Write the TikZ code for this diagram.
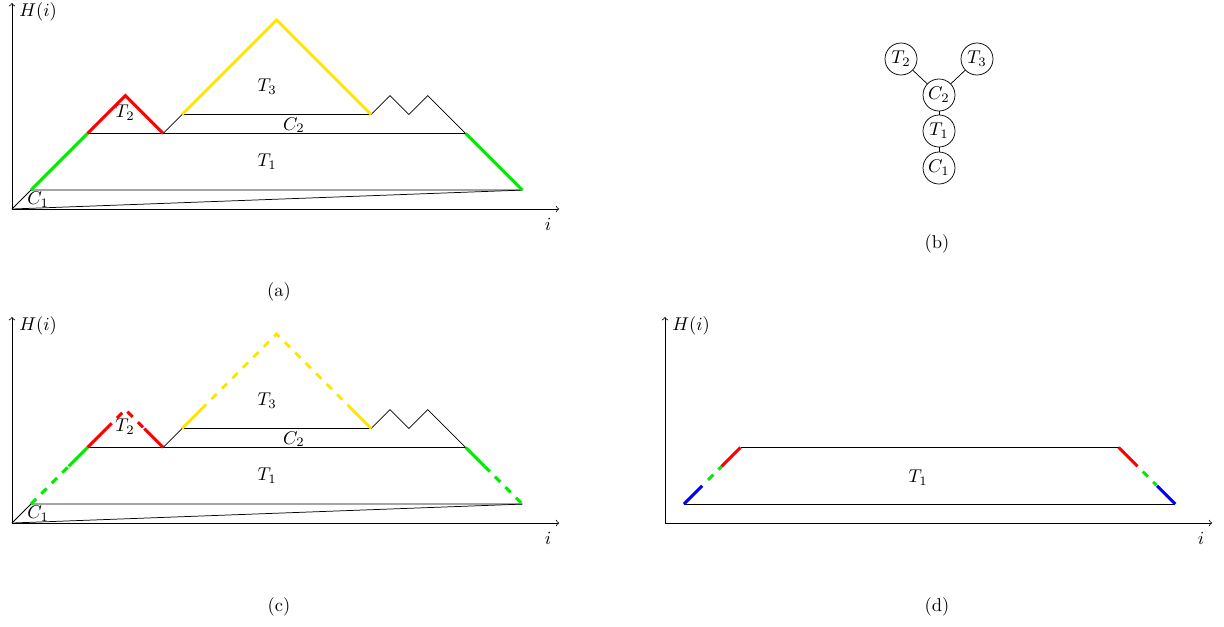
\documentclass[tikz,border=0pt]{standalone}
\definecolor{myyellow}{RGB}{255,228,0}
\definecolor{mygreen}{RGB}{0,235,0}
\begin{document}
\begin{tikzpicture}[x=0.5405pt,y=-0.5405pt,
  col/.style={line width=1.6pt},
  dsh/.style={col, dash pattern=on 4pt off 4pt},
  tnode/.style={draw, circle, inner sep=0.5pt, minimum size=17.3pt},
  panel/.style={scale=18.9, yscale=-1}]
\useasboundingbox (0,0) rectangle (1224,626);
\newcommand\mountainbase{%
  \draw[->] (0,0) -- (28.95,0);
  \draw[->] (0,0) -- (0,10.9);
  \draw (0,0) -- (1,1) -- (27,1);
  \draw (0,0) -- (27,1);
  \draw (4,4) -- (24,4);
  \draw (8,4) -- (9,5) -- (19,5);
  \draw (19,5) -- (20,6) -- (21,5) -- (22,6) -- (24,4);
  \node (hl) at (1.38,10.42) {$H(i)$};
  \node (il) at (28.36,-0.8) {$i$};
  \node (c1l) at (1.38,0.48) {$C_1$};
  \node (t2l) at (5.98,5.08) {$T_2$};
  \node (t3l) at (13.5,6.46) {$T_3$};
  \node (t1l) at (13.5,2.49) {$T_1$};
  \node (c2l) at (14.92,4.44) {$C_2$};
}
% (a)
\begin{scope}[shift={(12,209)}, panel]
  \mountainbase
  \draw[col, mygreen] (1,1) -- (4,4);
  \draw[col, mygreen] (24,4) -- (27,1);
  \draw[col, red] (4,4) -- (6,6) -- (8,4);
  \draw[col, myyellow] (9,5) -- (14,10) -- (19,5);
\end{scope}
% (c)
\begin{scope}[shift={(12,523)}, panel]
  \mountainbase
  \draw[dsh, mygreen] (1,1) -- (3,3);
  \draw[col, mygreen] (3,3) -- (4,4);
  \draw[col, red] (4,4) -- (5,5);
  \draw[dsh, red] (5,5) -- (6,6) -- (7,5);
  \draw[col, red] (7,5) -- (8,4);
  \draw[col, myyellow] (9,5) -- (10,6);
  \draw[dsh, myyellow] (10,6) -- (14,10) -- (18,6);
  \draw[col, myyellow] (18,6) -- (19,5);
  \draw[col, mygreen] (24,4) -- (25,3);
  \draw[dsh, mygreen] (25,3) -- (27,1);
\end{scope}
% (d)
\begin{scope}[shift={(665,523)}, panel]
  \draw[->] (0,0) -- (28.95,0);
  \draw[->] (0,0) -- (0,10.9);
  \draw (1,1) -- (27,1);
  \draw (4,4) -- (24,4);
  \draw[col, blue] (1,1) -- (1.97,1.97);
  \draw[dsh, mygreen, dash phase=4pt] (2,2) -- (3,3);
  \draw[col, red] (3,3) -- (4,4);
  \draw[col, red] (24,4) -- (25,3);
  \draw[dsh, mygreen, dash phase=4pt] (25,3) -- (26,2);
  \draw[col, blue] (26.03,1.97) -- (27,1);
  \node (hld) at (1.38,10.42) {$H(i)$};
  \node (ild) at (28.36,-0.8) {$i$};
  \node (t1d) at (13.39,2.38) {$T_1$};
\end{scope}
% (b) tree
\node[tnode] (t2) at (901,59) {$T_2$};
\node[tnode] (t3) at (977,59) {$T_3$};
\node[tnode] (c2) at (939,95) {$C_2$};
\node[tnode] (t1) at (939,131) {$T_1$};
\node[tnode] (c1) at (939,168) {$C_1$};
\draw (t2) -- (c2);
\draw (t3) -- (c2);
\draw (c2) -- (t1);
\draw (t1) -- (c1);
% captions
\node (capa) at (279,292) {(a)};
\node (capb) at (937,244) {(b)};
\node (capc) at (279,607) {(c)};
\node (capd) at (937,607) {(d)};
\end{tikzpicture}
\end{document}
